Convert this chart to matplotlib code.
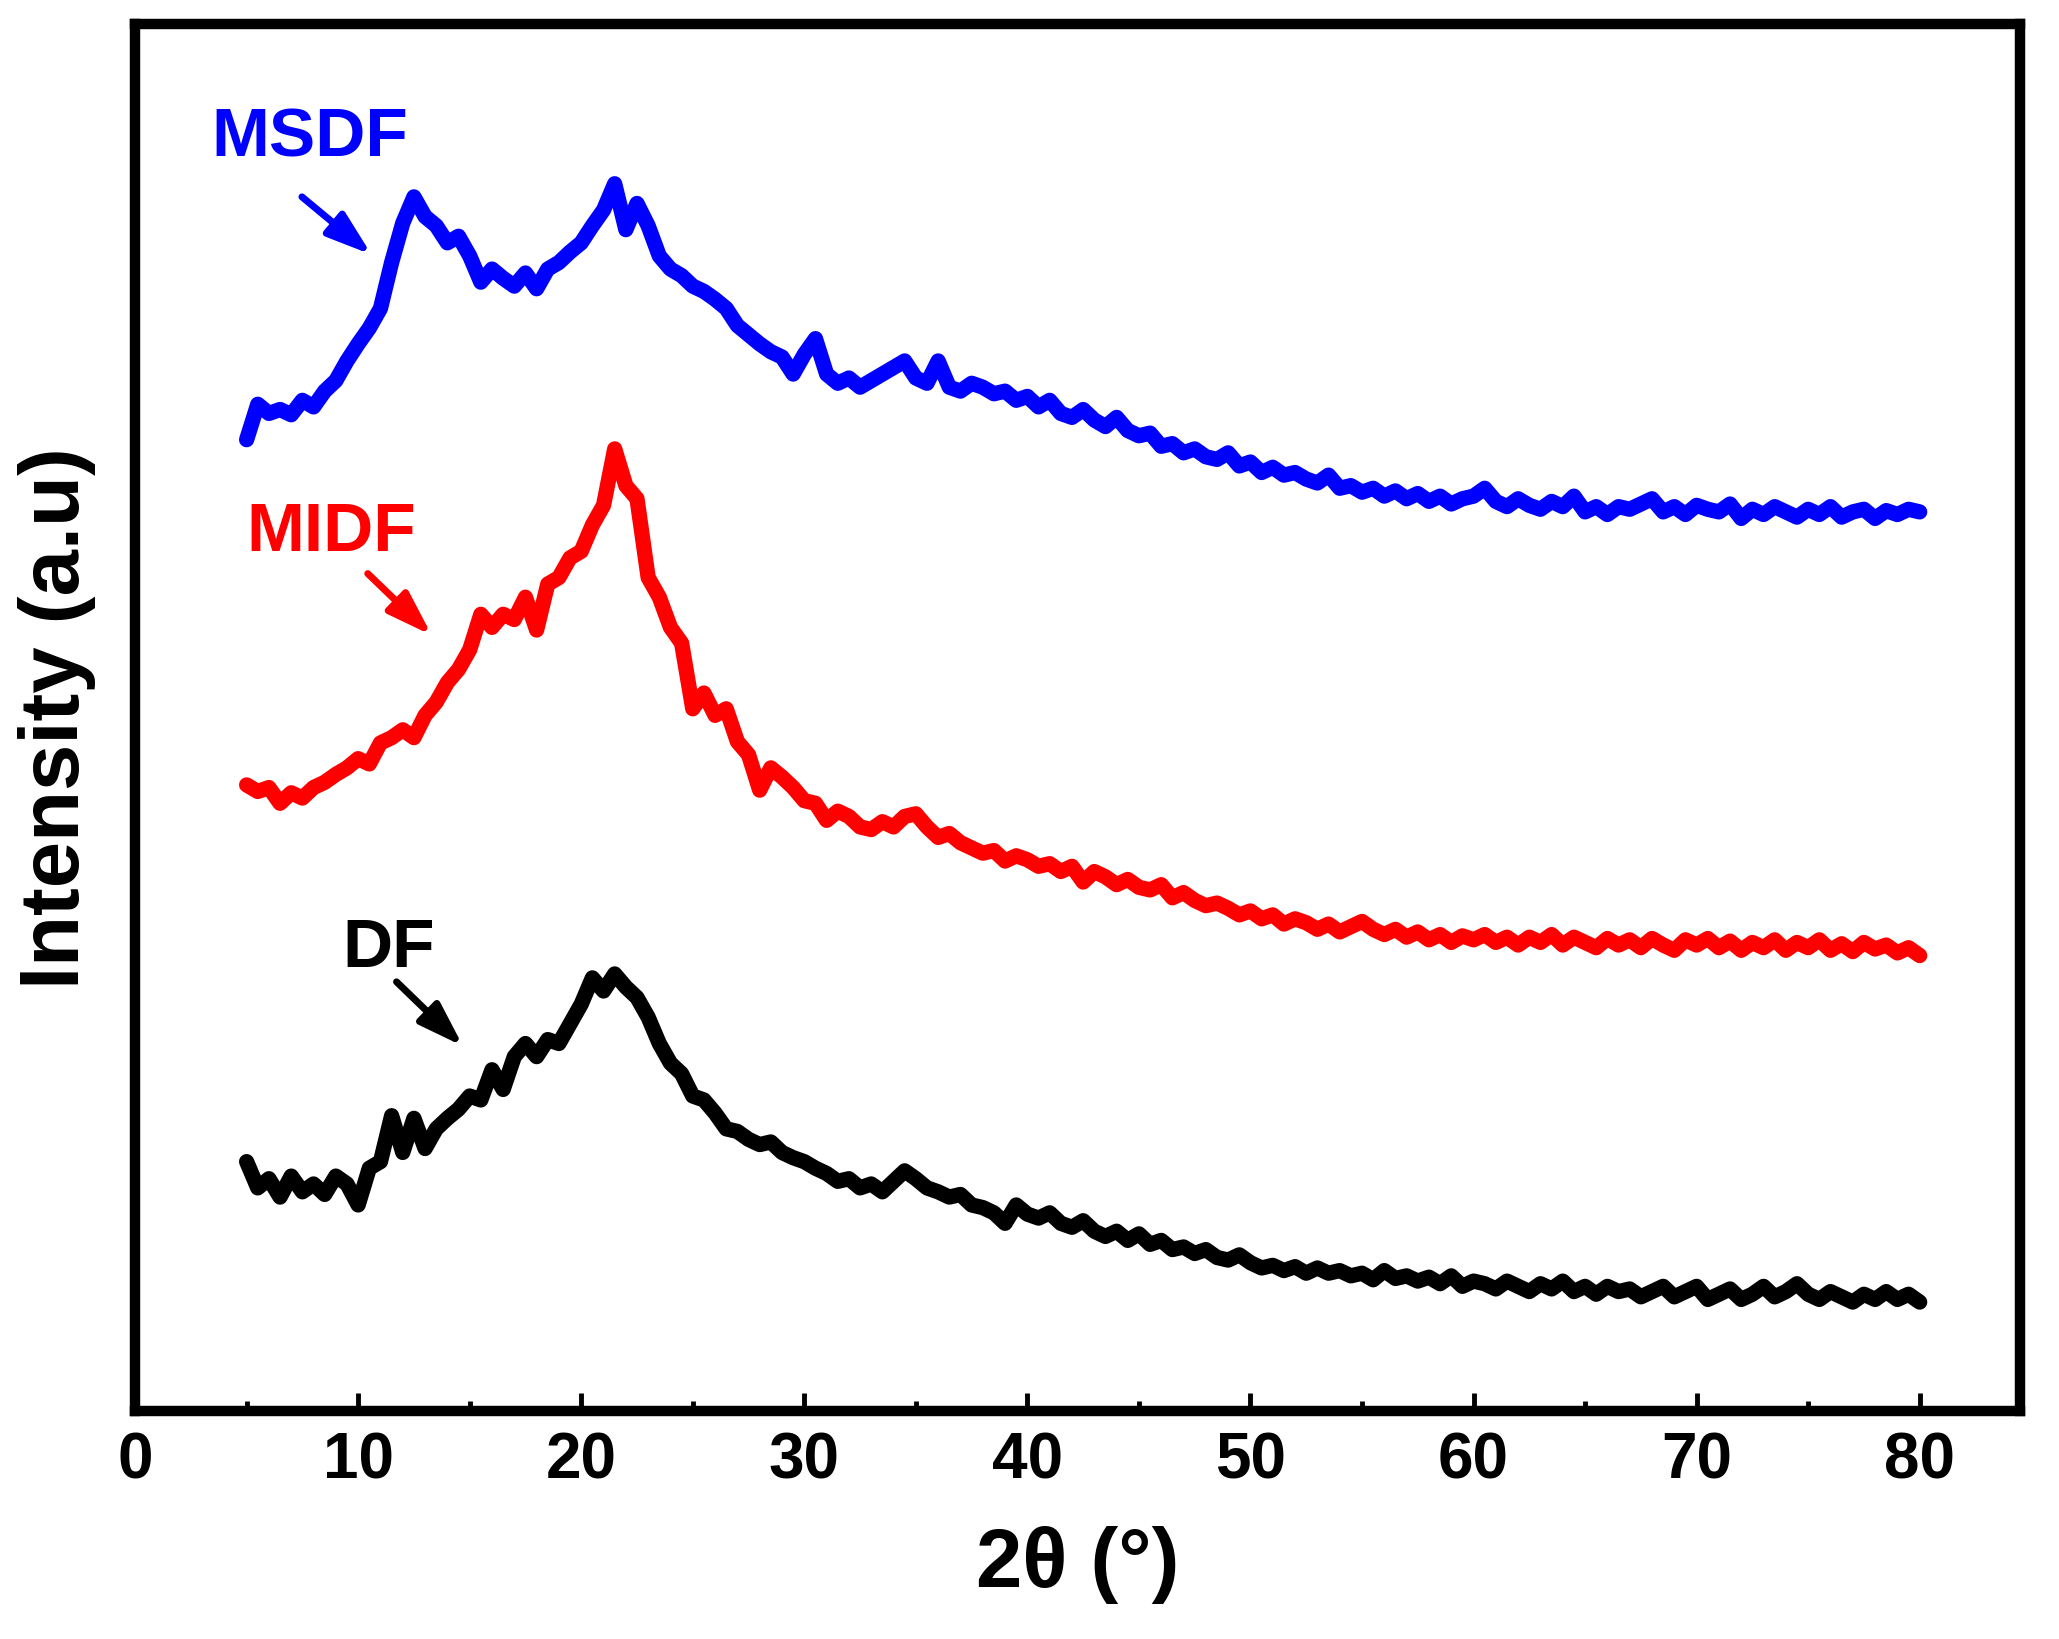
import numpy as np
import matplotlib
matplotlib.use('Agg')
import matplotlib.pyplot as plt
from matplotlib.ticker import MultipleLocator

plt.rcParams['font.family'] = ['Liberation Sans', 'DejaVu Sans']
plt.rcParams['font.weight'] = 'bold'

# 2theta grid (deg), one reading every 0.5 deg
two_theta = np.arange(5.0, 80.01, 0.5)

# MSDF (blue), intensity in a.u
msdf = [765, 792, 785, 788, 784, 795, 790, 802, 810, 825,
        838, 850, 865, 900, 930, 950, 935, 928, 915, 920,
        905, 885, 895, 888, 882, 892, 880, 895, 900, 908,
        915, 928, 940, 960, 925, 945, 928, 905, 895, 890,
        882, 878, 872, 865, 852, 845, 838, 832, 828, 815,
        830, 842, 815, 808, 812, 805, 810, 815, 820, 825,
        812, 808, 825, 805, 802, 808, 805, 800, 802, 795,
        798, 790, 795, 785, 782, 788, 780, 775, 782, 772,
        768, 770, 760, 762, 755, 758, 752, 750, 755, 745,
        748, 740, 744, 738, 740, 735, 732, 738, 728, 730,
        725, 728, 722, 726, 720, 724, 718, 722, 716, 720,
        722, 728, 718, 714, 720, 715, 712, 718, 714, 722,
        710, 714, 708, 714, 712, 716, 720, 710, 714, 708,
        715, 712, 710, 716, 705, 712, 708, 714, 710, 706,
        712, 708, 714, 706, 710, 712, 705, 711, 708, 712,
        710]

# MIDF (red)
midf = [502, 497, 500, 488, 496, 492, 500, 504, 510, 515,
        522, 518, 534, 538, 544, 538, 555, 565, 580, 590,
        605, 632, 622, 632, 628, 645, 620, 655, 660, 675,
        680, 700, 715, 758, 730, 720, 660, 645, 622, 610,
        560, 572, 555, 560, 535, 525, 498, 515, 508, 500,
        490, 488, 475, 482, 478, 470, 468, 474, 470, 478,
        480, 470, 462, 465, 458, 454, 450, 452, 444, 448,
        445, 440, 442, 436, 440, 428, 436, 432, 426, 430,
        424, 422, 426, 416, 420, 414, 410, 412, 408, 403,
        406, 400, 403, 396, 400, 397, 392, 396, 390, 394,
        398, 392, 388, 392, 386, 390, 384, 388, 382, 387,
        384, 388, 382, 386, 380, 386, 382, 388, 380, 386,
        382, 378, 385, 380, 384, 378, 385, 380, 376, 384,
        380, 385, 378, 383, 376, 382, 378, 384, 376, 382,
        378, 384, 376, 381, 375, 382, 377, 380, 374, 378,
        372]

# DF (black)
df = [215, 195, 202, 188, 204, 192, 198, 190, 204, 198,
      182, 210, 215, 250, 222, 248, 225, 240, 248, 255,
      265, 262, 285, 270, 295, 305, 295, 308, 305, 320,
      335, 355, 345, 358, 348, 340, 325, 305, 290, 282,
      265, 262, 252, 240, 238, 232, 228, 230, 222, 218,
      215, 210, 206, 200, 202, 195, 198, 192, 200, 208,
      202, 195, 192, 188, 190, 182, 180, 176, 168, 182,
      175, 172, 176, 168, 165, 170, 162, 158, 162, 155,
      160, 152, 155, 148, 150, 145, 148, 142, 140, 144,
      138, 134, 136, 132, 135, 130, 134, 130, 132, 128,
      130, 125, 132, 126, 128, 124, 127, 122, 128, 120,
      124, 122, 118, 124, 120, 116, 122, 118, 124, 116,
      120, 114, 120, 116, 118, 112, 116, 120, 112, 116,
      120, 110, 114, 118, 110, 114, 120, 112, 116, 122,
      114, 110, 116, 112, 108, 114, 110, 116, 110, 114,
      108]

fig = plt.figure(figsize=(20.59, 16.40), dpi=100)
ax = fig.add_axes([0.0656, 0.139, 0.9155, 0.846])

line_kw = dict(lw=11, solid_joinstyle='round', solid_capstyle='round')
ax.plot(two_theta, msdf, color='#0000ff', **line_kw)
ax.plot(two_theta, midf, color='#ff0000', **line_kw)
ax.plot(two_theta, df, color='black', **line_kw)

# labels with arrows
arrow_kw = dict(arrowstyle='-|>,head_length=1.5,head_width=0.5', lw=5,
                mutation_scale=18, shrinkA=0, shrinkB=0)
ax.annotate('', xy=(10.6, 906), xytext=(7.48, 950),
            arrowprops=dict(color='#0000ff', **arrow_kw))
ax.annotate('', xy=(13.3, 616), xytext=(10.43, 663),
            arrowprops=dict(color='#ff0000', **arrow_kw))
ax.annotate('', xy=(14.7, 303), xytext=(11.72, 352),
            arrowprops=dict(color='black', **arrow_kw))
ax.text(7.84, 995, 'MSDF', color='#0000ff', fontsize=50, fontweight='bold',
        ha='center', va='center')
ax.text(8.78, 695, 'MIDF', color='#ff0000', fontsize=50, fontweight='bold',
        ha='center', va='center')
ax.text(11.37, 378, 'DF', color='black', fontsize=50, fontweight='bold',
        ha='center', va='center')

ax.set_xlim(0, 84.5)
ax.set_ylim(25, 1082)
ax.xaxis.set_major_locator(MultipleLocator(10))
ax.xaxis.set_minor_locator(MultipleLocator(5))
ax.set_yticks([])
ax.tick_params(axis='x', which='major', direction='in', length=13, width=3.5,
               labelsize=46, pad=14)
ax.tick_params(axis='x', which='minor', direction='in', length=7, width=3.5)
for lab in ax.get_xticklabels():
    lab.set_fontweight('bold')
for sp in ax.spines.values():
    sp.set_linewidth(7.5)

ax.set_xlabel('2θ (°)', fontsize=60, fontweight='bold', labelpad=25)
ax.set_ylabel('Intensity (a.u)', fontsize=60, fontweight='bold', labelpad=28)

fig.savefig('out.png', dpi=100)
